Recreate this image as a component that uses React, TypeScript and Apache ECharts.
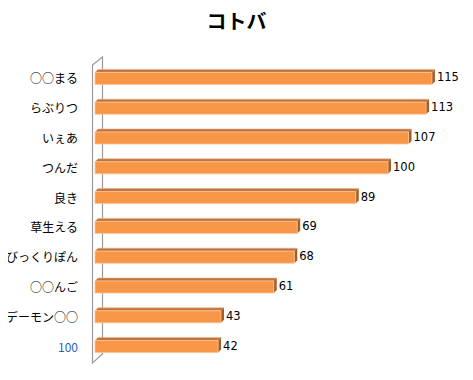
import React, { useEffect, useRef } from "react";
import * as echarts from "echarts";

const categories = ["○○まる", "らぶりつ", "いぇあ", "つんだ", "良き", "草生える", "びっくりぽん", "○○んご", "デーモン○○", "100"];
const values = [115, 113, 107, 100, 89, 69, 68, 61, 43, 42];
const titleText = "コトバ";

export default function App() {
  const ref = useRef<HTMLDivElement>(null);
  useEffect(() => {
    if (!ref.current) return;
    const chart = echarts.init(ref.current, null, { renderer: "svg" });
    const font = "'Noto Sans CJK JP', 'Noto Sans', sans-serif";
    chart.setOption({
      animation: false,
      title: {
        text: titleText,
        left: "center",
        top: 5,
        textStyle: { fontSize: 20, fontWeight: "bold", color: "#000", fontFamily: font },
      },
      grid: { left: 95, top: 63, height: 298, width: 351.6 },
      xAxis: { type: "value", min: 0, max: 120, show: false },
      yAxis: {
        type: "category",
        data: categories,
        inverse: true,
        axisLine: { show: false },
        axisTick: { show: false },
        axisLabel: {
          margin: 17,
          fontSize: 12,
          fontFamily: font,
          color: (v: string) => (v === "100" ? "#1F5FAF" : "#000"),
        },
      },
      graphic: [
        {
          type: "polygon",
          z: 0,
          shape: { points: [[92.5, 65], [102.5, 57], [102.5, 354], [92.5, 363]] },
          style: { fill: "#fff", stroke: "#9a9a9a", lineWidth: 1.2 },
        },
      ],
      series: [
        {
          type: "custom",
          z: 10,
          data: values.map((v, i) => [v, i]),
          encode: { x: 0, y: 1 },
          renderItem: (params: any, api: any) => {
            const v = api.value(0);
            const idx = api.value(1);
            const s = api.coord([0, idx]);
            const e = api.coord([v, idx]);
            const h = 12;
            const d = 3;
            const x0 = s[0];
            const x1 = e[0];
            const y0 = s[1] - h / 2 + 0.5;
            const y1 = y0 + h;
            return {
              type: "group",
              children: [
                {
                  type: "polygon",
                  shape: { points: [[x0, y0], [x0 + d, y0 - d], [x1 + d, y0 - d], [x1, y0]] },
                  style: { fill: "#C0733A", stroke: "#E8B48A", lineWidth: 0.6 },
                },
                {
                  type: "polygon",
                  shape: { points: [[x1, y0], [x1 + d, y0 - d], [x1 + d, y1 - d], [x1, y1]] },
                  style: { fill: "#A65E28" },
                },
                {
                  type: "rect",
                  shape: { x: x0, y: y0, width: x1 - x0, height: h },
                  style: { fill: "#F79646", stroke: "#FAC598", lineWidth: 0.8 },
                },
                {
                  type: "text",
                  x: x1 + d + 2,
                  y: y0 + h / 2 - 1,
                  style: {
                    text: String(v),
                    fill: "#000",
                    fontSize: 11.5,
                    fontFamily: "'DejaVu Sans', sans-serif",
                    align: "left",
                    verticalAlign: "middle",
                  },
                },
              ],
            };
          },
        },
      ],
    });
    return () => chart.dispose();
  }, []);
  return <div ref={ref} style={{ width: 473, height: 380, margin: -8 }} />;
}
